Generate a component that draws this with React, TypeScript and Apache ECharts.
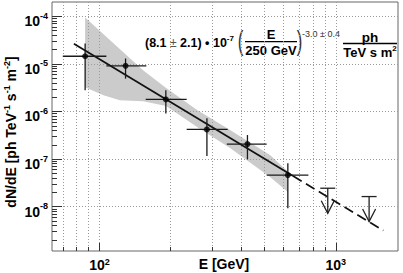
import React, { useEffect, useRef } from "react";
import * as echarts from "echarts";

const FONT = "'Liberation Sans', Arial, Helvetica, sans-serif";

// axis ranges
const xMin = 63;
const xMax = 1834;
const yMin = 1.17e-9;
const yMax = 2.0e-4;

// ticks
const xMajorTicks = [100, 1000];
const xMinorTicks = [70, 80, 90, 200, 300, 400, 500, 600, 700, 800, 900];
const yMajorTicks = [1e-8, 1e-7, 1e-6, 1e-5, 1e-4];
const yMinorDecades = [1e-9, 1e-8, 1e-7, 1e-6, 1e-5];
const yMinorSteps = [2, 3, 4, 5, 6, 7, 8, 9];
const yMinorTicks = yMinorDecades.flatMap((d) => yMinorSteps.map((s) => +(s * d).toPrecision(3)));

// measured spectrum points
const pointE = [87, 129, 191, 285, 423, 627];
const pointEMin = [70, 107, 157, 234, 346, 510];
const pointEMax = [107, 158, 234, 349, 510, 766];
const pointFlux = [1.45e-5, 9.1e-6, 1.79e-6, 4.2e-7, 2.07e-7, 4.6e-8];
const pointFluxMin = [2.8e-6, 4.9e-6, 9.1e-7, 1.16e-7, 9.9e-8, 9.3e-9];
const pointFluxMax = [2.7e-5, 1.3e-5, 2.8e-6, 7.2e-7, 3.2e-7, 8.2e-8];

// upper limits
const ulE = [925, 1384];
const ulFlux = [2.44e-8, 1.63e-8];

// power-law fit line
const fitSolidE = [78, 660];
const fitSolidFlux = [2.66e-5, 4.4e-8];
const fitDashE = [660, 1590];
const fitDashFlux = [4.4e-8, 3.15e-9];

// confidence band
const bandUpperE = [87, 153, 191.5, 259, 357, 527, 628];
const bandUpperFlux = [9.5e-5, 7.4e-6, 3.1e-6, 1.07e-6, 4.07e-7, 1.22e-7, 5.4e-8];
const bandLowerE = [628, 527, 357, 259, 191.5, 153, 122, 104, 87];
const bandLowerFlux = [2.04e-8, 4.2e-8, 1.71e-7, 4.7e-7, 1.3e-6, 1.65e-6, 1.73e-6, 2.2e-6, 3.25e-6];

const expOf = (v: number) => Math.round(Math.log10(v));

const xRich = {
  b: { fontFamily: FONT, fontSize: 14, fontWeight: "bold", color: "#000", lineHeight: 16 },
  s: { fontFamily: FONT, fontSize: 9, fontWeight: "bold", color: "#000", lineHeight: 9, verticalAlign: "top" },
};
const yRich = {
  b: { fontFamily: FONT, fontSize: 14, fontWeight: "bold", color: "#000", lineHeight: 20 },
  s: { fontFamily: FONT, fontSize: 9, fontWeight: "bold", color: "#000", lineHeight: 9, verticalAlign: "top" },
};

const gridLine = { show: true, lineStyle: { color: "#9a9a9a", width: 1, type: [1, 2] } };
const tickStyle = { color: "#333", width: 1 };

const lineStyleUL = { stroke: "#222", lineWidth: 1.3 };

function buildOption(): any {
  return {
    animation: false,
    backgroundColor: "#fff",
    grid: {
      left: 52,
      right: 5,
      top: 2,
      bottom: 22,
      show: true,
      borderColor: "#666",
      borderWidth: 1,
      backgroundColor: "transparent",
      outerBoundsMode: "none",
    },
    xAxis: [
      {
        type: "log",
        logBase: 10,
        min: xMin,
        max: xMax,
        position: "bottom",
        axisLine: { show: false },
        axisTick: { show: true, inside: true, length: 8, customValues: xMajorTicks, lineStyle: tickStyle },
        axisLabel: {
          customValues: xMajorTicks,
          margin: 6,
          formatter: (v: number) => `{b|10}{s|${expOf(v)}}`,
          rich: xRich,
        },
        splitLine: gridLine,
        minorTick: { show: false },
      },
      {
        type: "log",
        logBase: 10,
        min: xMin,
        max: xMax,
        position: "bottom",
        offset: 0,
        axisLine: { show: false },
        axisTick: { show: true, inside: true, length: 4, customValues: xMinorTicks, lineStyle: tickStyle },
        axisLabel: { show: false },
        splitLine: gridLine,
      },
    ],
    yAxis: [
      {
        type: "log",
        logBase: 10,
        min: yMin,
        max: yMax,
        position: "left",
        axisLine: { show: false },
        axisTick: { show: true, inside: true, length: 10, customValues: yMajorTicks, lineStyle: tickStyle },
        axisLabel: {
          customValues: yMajorTicks,
          margin: 4,
          padding: [10, 0, 0, 0],
          formatter: (v: number) => `{b|10}{s|${expOf(v)}}`,
          rich: yRich,
        },
        splitLine: gridLine,
      },
      {
        type: "log",
        logBase: 10,
        min: yMin,
        max: yMax,
        position: "left",
        offset: 0,
        axisLine: { show: false },
        axisTick: { show: true, inside: true, length: 5, customValues: yMinorTicks, lineStyle: tickStyle },
        axisLabel: { show: false },
        splitLine: { show: false },
      },
    ],
    graphic: [
      {
        type: "text",
        x: 11,
        y: 132,
        rotation: Math.PI / 2,
        style: {
          text: "{t|dN/dE [ph TeV}{s|-1}{t| s}{s|-1}{t| m}{s|-2}{t|]}",
          align: "center",
          verticalAlign: "middle",
          rich: {
            t: { fontFamily: FONT, fontSize: 14, fontWeight: "bold", fill: "#000", lineHeight: 18 },
            s: { fontFamily: FONT, fontSize: 9, fontWeight: "bold", fill: "#000", lineHeight: 9, verticalAlign: "top" },
          },
        },
      },
      {
        type: "text",
        x: 224,
        y: 264,
        style: {
          text: "E [GeV]",
          fontFamily: FONT,
          fontSize: 14,
          fontWeight: "bold",
          fill: "#000",
          align: "center",
          verticalAlign: "middle",
        },
      },
      {
        type: "text",
        x: 145,
        y: 42.5,
        style: {
          text: "{a|(8.1 }{pm|±}{a| 2.1) • 10}{s|-7}",
          align: "left",
          verticalAlign: "middle",
          rich: {
            a: { fontFamily: FONT, fontSize: 12.5, fontWeight: "bold", fill: "#000", lineHeight: 16 },
            pm: { fontFamily: FONT, fontSize: 12, fontWeight: "normal", fill: "#555", lineHeight: 16 },
            s: { fontFamily: FONT, fontSize: 8, fontWeight: "bold", fill: "#000", lineHeight: 8, verticalAlign: "top" },
          },
        },
      },
      {
        type: "text",
        x: 240.5,
        y: 40,
        scaleX: 0.6,
        style: { text: "(", fontFamily: FONT, fontSize: 28, fill: "#333", align: "center", verticalAlign: "middle" },
      },
      {
        type: "text",
        x: 271,
        y: 34,
        style: { text: "E", fontFamily: FONT, fontSize: 13, fontWeight: "bold", fill: "#000", align: "center", verticalAlign: "middle" },
      },
      { type: "line", shape: { x1: 245, y1: 41.7, x2: 297, y2: 41.7 }, style: { stroke: "#000", lineWidth: 1.3 } },
      {
        type: "text",
        x: 271,
        y: 50,
        style: { text: "250 GeV", fontFamily: FONT, fontSize: 13, fontWeight: "bold", fill: "#000", align: "center", verticalAlign: "middle" },
      },
      {
        type: "text",
        x: 299.5,
        y: 40,
        scaleX: 0.6,
        style: { text: ")", fontFamily: FONT, fontSize: 28, fill: "#333", align: "center", verticalAlign: "middle" },
      },
      {
        type: "text",
        x: 302,
        y: 33.5,
        style: { text: "-3.0 ± 0.4", fontFamily: FONT, fontSize: 9, fill: "#333", align: "left", verticalAlign: "middle" },
      },
      {
        type: "text",
        x: 370,
        y: 37,
        style: { text: "ph", fontFamily: FONT, fontSize: 13.5, fontWeight: "bold", fill: "#000", align: "center", verticalAlign: "middle" },
      },
      { type: "line", shape: { x1: 343, y1: 43.5, x2: 397, y2: 43.5 }, style: { stroke: "#000", lineWidth: 1.3 } },
      {
        type: "text",
        x: 370,
        y: 52,
        style: {
          text: "{a|TeV s m}{s|2}",
          align: "center",
          verticalAlign: "middle",
          rich: {
            a: { fontFamily: FONT, fontSize: 13, fontWeight: "bold", fill: "#000", lineHeight: 15 },
            s: { fontFamily: FONT, fontSize: 8, fontWeight: "bold", fill: "#000", lineHeight: 8, verticalAlign: "top" },
          },
        },
      },
    ],
    series: [
      {
        type: "custom",
        name: "band",
        xAxisIndex: 0,
        yAxisIndex: 0,
        z: -1,
        silent: true,
        clip: true,
        data: [[bandUpperE[0], bandUpperFlux[0]]],
        renderItem: (_p: any, api: any) => {
          const pts = [
            ...bandUpperE.map((e, i) => api.coord([e, bandUpperFlux[i]])),
            ...bandLowerE.map((e, i) => api.coord([e, bandLowerFlux[i]])),
          ];
          return { type: "polygon", shape: { points: pts }, style: { fill: "#cbcbcb", stroke: null } };
        },
      },
      {
        type: "line",
        name: "fit",
        xAxisIndex: 0,
        yAxisIndex: 0,
        showSymbol: false,
        silent: true,
        lineStyle: { color: "#111", width: 1.7 },
        data: fitSolidE.map((e, i) => [e, fitSolidFlux[i]]),
        z: 3,
      },
      {
        type: "line",
        name: "fit extrapolation",
        xAxisIndex: 0,
        yAxisIndex: 0,
        showSymbol: false,
        silent: true,
        lineStyle: { color: "#111", width: 1.7, type: [10, 5] },
        data: fitDashE.map((e, i) => [e, fitDashFlux[i]]),
        z: 3,
      },
      {
        type: "custom",
        name: "errors",
        xAxisIndex: 0,
        yAxisIndex: 0,
        silent: true,
        z: 4,
        data: pointE.map((e, i) => [e, pointFlux[i], pointEMin[i], pointEMax[i], pointFluxMin[i], pointFluxMax[i]]),
        encode: { x: 0, y: 1 },
        renderItem: (_p: any, api: any) => {
          const x = api.value(0);
          const y = api.value(1);
          const l = api.coord([api.value(2), y]);
          const r = api.coord([api.value(3), y]);
          const b = api.coord([x, api.value(4)]);
          const t = api.coord([x, api.value(5)]);
          const st = { stroke: "#1a1a1a", lineWidth: 1.3 };
          return {
            type: "group",
            children: [
              { type: "line", shape: { x1: l[0], y1: l[1], x2: r[0], y2: r[1] }, style: st },
              { type: "line", shape: { x1: t[0], y1: t[1], x2: b[0], y2: b[1] }, style: st },
            ],
          };
        },
      },
      {
        type: "scatter",
        name: "flux",
        xAxisIndex: 0,
        yAxisIndex: 0,
        symbol: "circle",
        symbolSize: 6,
        itemStyle: { color: "#000" },
        silent: true,
        z: 5,
        data: pointE.map((e, i) => [e, pointFlux[i]]),
      },
      {
        type: "custom",
        name: "upper limits",
        xAxisIndex: 0,
        yAxisIndex: 0,
        silent: true,
        z: 4,
        data: ulE.map((e, i) => [e, ulFlux[i]]),
        encode: { x: 0, y: 1 },
        renderItem: (_p: any, api: any) => {
          const c = api.coord([api.value(0), api.value(1)]);
          const tipY = c[1] + 25;
          return {
            type: "group",
            children: [
              { type: "line", shape: { x1: c[0] - 7.5, y1: c[1], x2: c[0] + 7.5, y2: c[1] }, style: lineStyleUL },
              { type: "line", shape: { x1: c[0], y1: c[1], x2: c[0], y2: tipY }, style: lineStyleUL },
              {
                type: "polyline",
                shape: { points: [[c[0] - 6.5, tipY - 12.5], [c[0], tipY], [c[0] + 6.5, tipY - 12.5]] },
                style: { ...lineStyleUL, fill: null },
              },
            ],
          };
        },
      },
    ],
  };
}

export default function App() {
  const ref = useRef<HTMLDivElement>(null);
  useEffect(() => {
    document.body.style.margin = "0";
    const chart = echarts.init(ref.current!, null, { renderer: "svg" });
    chart.setOption(buildOption());
    return () => chart.dispose();
  }, []);
  return <div ref={ref} style={{ width: 403, height: 273, position: "absolute", left: 0, top: 0 }} />;
}
